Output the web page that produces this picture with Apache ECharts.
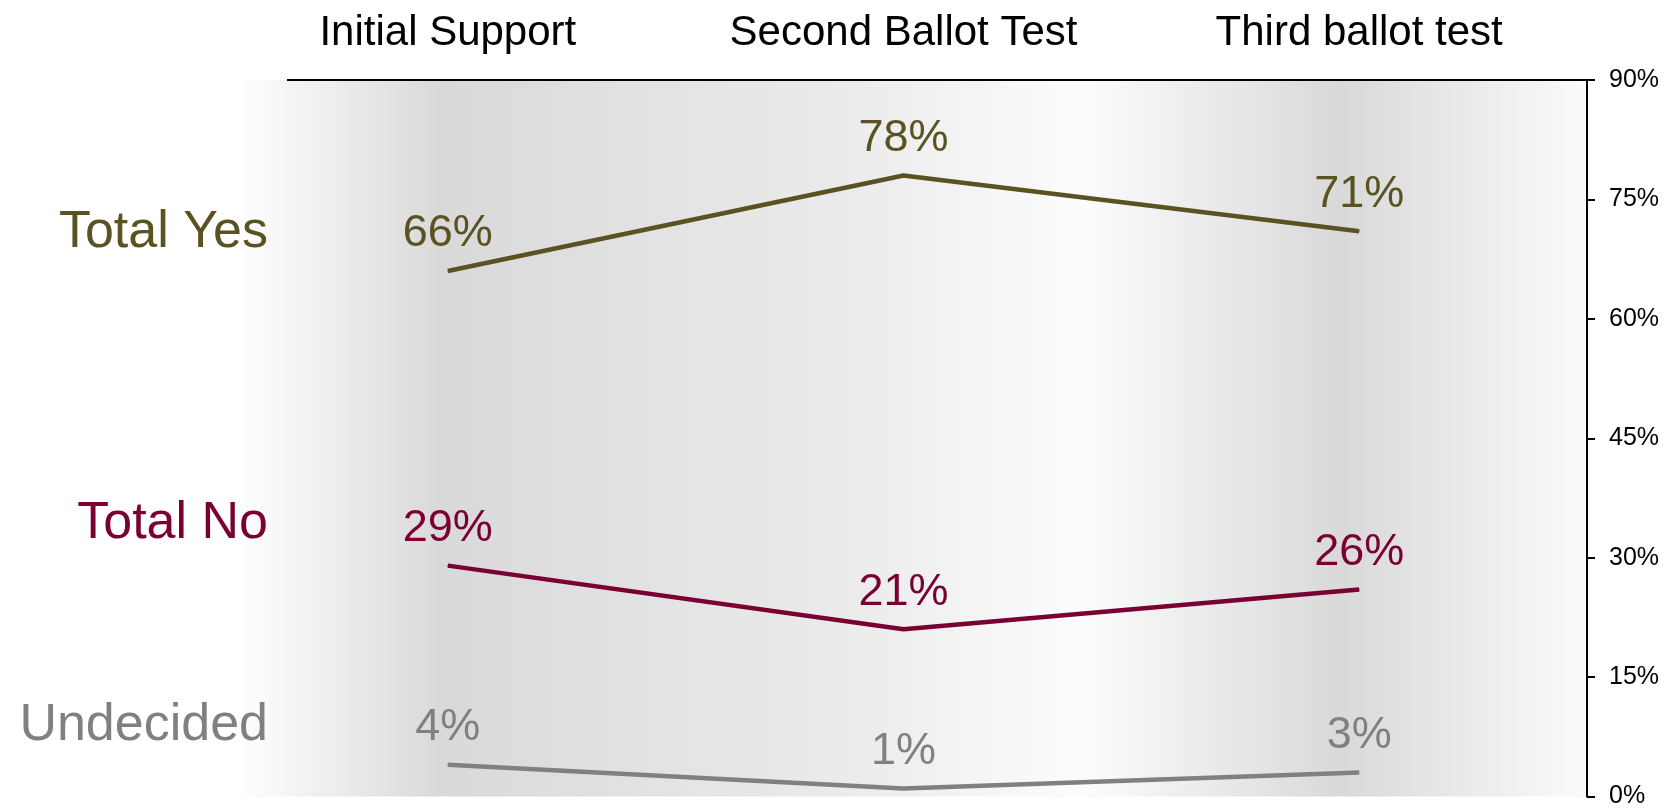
<!DOCTYPE html>
<html>
<head>
<meta charset="utf-8">
<script src="https://cdn.jsdelivr.net/npm/echarts@6/dist/echarts.min.js"></script>
<style>
html,body{margin:0;padding:0;background:#fff;}
#main{width:1668px;height:809px;}
</style>
</head>
<body>
<div id="main"></div>
<script>
let categories = ['Initial Support', 'Second Ballot Test', 'Third ballot test'];
let seriesNames = ['Total Yes', 'Total No', 'Undecided'];
let yesValues = [66, 78, 71];
let noValues = [29, 21, 26];
let undecidedValues = [4, 1, 3];
let yTicks = [0, 15, 30, 45, 60, 75, 90];

let colors = ['#5a5220', '#7a0034', '#808080'];
let font = '"Liberation Sans", Arial, sans-serif';

let myChart = echarts.init(document.getElementById('main'));

function lineSeries(name, data, color) {
    return {
        name: name,
        type: 'line',
        data: data,
        symbol: 'circle',
        symbolSize: 1,
        showSymbol: true,
        itemStyle: {color: color},
        lineStyle: {color: color, width: 4.5},
        label: {
            show: true,
            position: 'top',
            distance: 14,
            formatter: '{c}%',
            color: color,
            fontSize: 45,
            fontFamily: font
        },
        animation: false
    };
}

// names on the left side of the plot
let nameY = [233, 524, 726];
let nameTexts = seriesNames.map(function (n, i) {
    return {
        type: 'text',
        right: 1668 - 268,
        top: nameY[i] - 26,
        style: {
            text: n,
            fill: colors[i],
            font: '52px ' + font,
            align: 'right'
        }
    };
});

let option = {
    backgroundColor: '#fff',
    grid: {
        left: 220,
        right: 81,
        top: 80,
        bottom: 11,
        show: true,
        borderWidth: 0,
        backgroundColor: new echarts.graphic.LinearGradient(0, 0, 1, 0, [
            {offset: 0, color: '#ffffff'},
            {offset: 0.01, color: '#ffffff'},
            {offset: 0.162, color: '#d9d9d9'},
            {offset: 0.47, color: '#ececec'},
            {offset: 0.63, color: '#fcfcfc'},
            {offset: 0.82, color: '#d9d9d9'},
            {offset: 1, color: '#fbfbfb'}
        ])
    },
    xAxis: {
        type: 'category',
        position: 'top',
        data: categories,
        boundaryGap: true,
        axisLine: {show: false},
        axisTick: {show: false},
        axisLabel: {
            color: '#000',
            fontSize: 42,
            fontFamily: font,
            margin: 26
        },
        splitLine: {show: false}
    },
    yAxis: {
        type: 'value',
        position: 'right',
        min: 0,
        max: 90,
        interval: 15,
        axisLine: {show: true, lineStyle: {color: '#000', width: 2}},
        axisTick: {show: true, length: 8, lineStyle: {color: '#000', width: 2}},
        axisLabel: {
            color: '#000',
            fontSize: 25,
            fontFamily: font,
            margin: 22,
            formatter: function (v) {
                return yTicks.indexOf(v) >= 0 ? v + '%' : '';
            }
        },
        splitLine: {show: false}
    },
    graphic: [{
        type: 'line',
        shape: {x1: 287, y1: 80, x2: 1588, y2: 80},
        style: {stroke: '#000', lineWidth: 2},
        z: 100
    }].concat(nameTexts),
    series: [
        lineSeries(seriesNames[0], yesValues, colors[0]),
        lineSeries(seriesNames[1], noValues, colors[1]),
        lineSeries(seriesNames[2], undecidedValues, colors[2])
    ]
};
myChart.setOption(option);
</script>
</body>
</html>
